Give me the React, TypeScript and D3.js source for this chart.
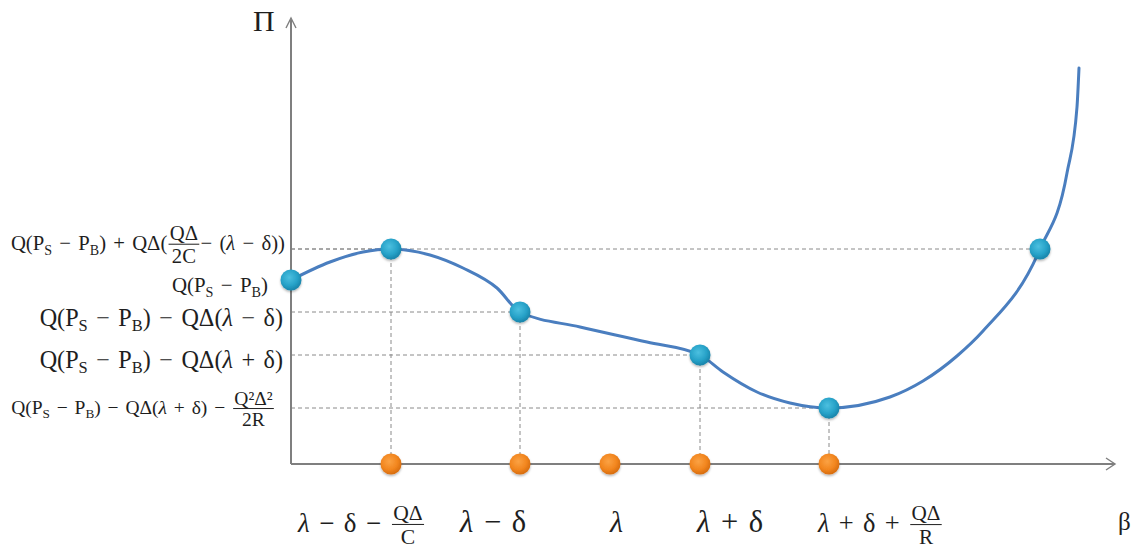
import React, { useEffect, useRef } from 'react';
import * as d3 from 'd3';

const W = 1131;
const H = 558;

// Profit curve Π(β), sampled along the drawn line
const curveBeta = [0, 39, 72, 100, 139, 172, 206, 229, 289, 356, 409, 432, 466, 499, 538, 599, 632, 666, 692, 749, 776, 786, 788];
const curvePi = [184, 202, 212, 215, 209, 196, 176, 152, 137, 122, 109, 92, 72, 61, 56, 67, 83, 108, 133, 215, 291, 357, 396];

// Highlighted points on the curve
const keyBeta = [0, 100, 229, 409, 538, 749];
const keyPi = [184, 215, 152, 109, 56, 215];

// Marked β positions on the horizontal axis
const tickBeta = [100, 229, 319, 409, 538];

type Part = string | { sub: string } | { it: string } | { frac: [string, string] };

// Π-axis labels (values + formula pieces)
const piLabelValues = [215, 184, 152, 109, 56];
const piLabelParts: Part[][] = [
  ['Q(P', { sub: 'S' }, ' − P', { sub: 'B' }, ') + QΔ(', { frac: ['QΔ', '2C'] }, '− (', { it: 'λ' }, ' − δ))'],
  ['Q(P', { sub: 'S' }, ' − P', { sub: 'B' }, ')'],
  ['Q(P', { sub: 'S' }, ' − P', { sub: 'B' }, ') − QΔ(', { it: 'λ' }, ' − δ)'],
  ['Q(P', { sub: 'S' }, ' − P', { sub: 'B' }, ') − QΔ(', { it: 'λ' }, ' + δ)'],
  ['Q(P', { sub: 'S' }, ' − P', { sub: 'B' }, ') − QΔ(', { it: 'λ' }, ' + δ) − ', { frac: ['Q²Δ²', '2R'] }],
];

// β-axis labels
const betaLabelParts: Part[][] = [
  [{ it: 'λ' }, ' − δ − ', { frac: ['QΔ', 'C'] }],
  [{ it: 'λ' }, ' − δ'],
  [{ it: 'λ' }],
  [{ it: 'λ' }, ' + δ'],
  [{ it: 'λ' }, ' + δ + ', { frac: ['QΔ', 'R'] }],
];

// Layout for the formula labels
const piLabelSize = [20.7, 20.9, 24.2, 24.2, 19.5];
const piLabelDx = [-6, -23, -8, -8, -16];
const piLabelDy = [1, 12, 14, 13, 6];
const betaLabelSize = [27, 30.5, 30, 30.5, 26.5];
const betaLabelDx = [-93, -60, 0, -3, -11];
const betaLabelFrac = [0.8, 1, 1, 1, 0.8];

const FONT = '"Liberation Serif", "Times New Roman", serif';
const INK = '#1e1e1e';
const WORD_SPACING = 0.1; // em, widens the gaps around operators

function drawMath(
  g: d3.Selection<SVGGElement, unknown, null, undefined>,
  parts: Part[],
  fs: number,
  fracScale = 1
): number {
  let cx = 0;
  const addText = (str: string, size: number, px: number, py: number, italic = false) => {
    const t = g
      .append('text')
      .attr('x', px)
      .attr('y', py)
      .attr('font-size', size)
      .attr('font-family', FONT)
      .attr('fill', INK)
      .attr('word-spacing', size * WORD_SPACING)
      .style('white-space', 'pre')
      .text(str);
    if (italic) t.attr('font-style', 'italic');
    return t;
  };
  const len = (t: d3.Selection<SVGTextElement, unknown, null, undefined>) =>
    (t.node() as SVGTextElement).getComputedTextLength();

  for (const p of parts) {
    if (typeof p === 'string') {
      cx += len(addText(p, fs, cx, 0));
    } else if ('sub' in p) {
      cx += len(addText(p.sub, fs * 0.68, cx, fs * 0.22));
    } else if ('it' in p) {
      cx += len(addText(p.it, fs, cx, 0, true));
    } else {
      const ff = fs * fracScale;
      const bar = -fs * 0.28;
      const pad = ff * 0.12;
      const num = addText(p.frac[0], ff, 0, bar - ff * 0.2);
      const den = addText(p.frac[1], ff, 0, bar + ff * 0.9);
      const w = Math.max(len(num), len(den)) + pad * 2;
      num.attr('x', cx + w / 2).attr('text-anchor', 'middle');
      den.attr('x', cx + w / 2).attr('text-anchor', 'middle');
      g.append('line')
        .attr('x1', cx + pad * 0.5)
        .attr('x2', cx + w - pad * 0.5)
        .attr('y1', bar)
        .attr('y2', bar)
        .attr('stroke', INK)
        .attr('stroke-width', 1);
      cx += w;
    }
  }
  return cx;
}

export default function App() {
  const ref = useRef<SVGSVGElement>(null);

  useEffect(() => {
    const svg = d3.select(ref.current as SVGSVGElement);
    svg.selectAll('*').remove();

    const x = d3.scaleLinear().domain([0, 824]).range([291, 1115]);
    const y = d3.scaleLinear().domain([0, 446]).range([464, 18]);

    const defs = svg.append('defs');
    const blue = defs.append('radialGradient').attr('id', 'dotBlue').attr('cx', '42%').attr('cy', '38%').attr('r', '60%');
    blue.append('stop').attr('offset', '0%').attr('stop-color', '#4cc0e0');
    blue.append('stop').attr('offset', '65%').attr('stop-color', '#27a2c8');
    blue.append('stop').attr('offset', '100%').attr('stop-color', '#1a87ad');
    const orange = defs.append('radialGradient').attr('id', 'dotOrange').attr('cx', '42%').attr('cy', '38%').attr('r', '60%');
    orange.append('stop').attr('offset', '0%').attr('stop-color', '#fba243');
    orange.append('stop').attr('offset', '65%').attr('stop-color', '#f2861f');
    orange.append('stop').attr('offset', '100%').attr('stop-color', '#d96f10');
    const shadow = defs.append('filter').attr('id', 'dotShadow').attr('x', '-50%').attr('y', '-50%').attr('width', '200%').attr('height', '200%');
    shadow.append('feDropShadow').attr('dx', 0).attr('dy', 1.5).attr('stdDeviation', 1.2).attr('flood-color', '#000').attr('flood-opacity', 0.3);

    // guide lines
    const guides = svg.append('g').attr('stroke', '#8a8a8a').attr('stroke-width', 1).attr('stroke-dasharray', '4,3').attr('fill', 'none');
    keyBeta.forEach((b, i) => {
      if (i === 0) return;
      guides.append('line').attr('x1', x(0)).attr('x2', x(b)).attr('y1', y(keyPi[i])).attr('y2', y(keyPi[i]));
      if (i < keyBeta.length - 1) {
        guides.append('line').attr('x1', x(b)).attr('x2', x(b)).attr('y1', y(keyPi[i])).attr('y2', y(0));
      }
    });

    // axes
    const axes = svg.append('g').attr('stroke', '#7f7f7f').attr('fill', 'none');
    axes.append('path').attr('stroke-width', 2).attr('d', `M${x(0)},${y(0)}V${y(446) + 2}M${x(0)},${y(0)}H${x(824)}`);
    axes.append('path').attr('stroke-width', 1.4)
      .attr('d', `M${x(0) - 5},${y(446) + 10}L${x(0)},${y(446)}L${x(0) + 5},${y(446) + 10}`);
    axes.append('path').attr('stroke-width', 1.4)
      .attr('d', `M${x(824) - 9},${y(0) - 6}L${x(824)},${y(0)}L${x(824) - 9},${y(0) + 6}`);

    // curve
    const line = d3
      .line<number>()
      .x((_, i) => x(curveBeta[i]))
      .y((d) => y(d))
      .curve(d3.curveMonotoneX);
    svg.append('path')
      .attr('d', line(curvePi) as string)
      .attr('fill', 'none')
      .attr('stroke', '#4a7ebf')
      .attr('stroke-width', 3)
      .attr('stroke-linecap', 'round');

    // points
    svg.append('g').selectAll('circle').data(tickBeta).join('circle')
      .attr('cx', (d) => x(d)).attr('cy', y(0)).attr('r', 10.5)
      .attr('fill', 'url(#dotOrange)').attr('filter', 'url(#dotShadow)');
    svg.append('g').selectAll('circle').data(keyBeta).join('circle')
      .attr('cx', (d) => x(d)).attr('cy', (_, i) => y(keyPi[i])).attr('r', 10.5)
      .attr('fill', 'url(#dotBlue)').attr('filter', 'url(#dotShadow)');

    // Π-axis formula labels (right aligned to the axis)
    piLabelParts.forEach((parts, i) => {
      const g = svg.append('g');
      const w = drawMath(g, parts, piLabelSize[i]);
      g.attr('transform', `translate(${x(0) + piLabelDx[i] - w},${y(piLabelValues[i]) + piLabelDy[i]})`);
    });

    // β-axis formula labels
    betaLabelParts.forEach((parts, i) => {
      const g = svg.append('g');
      drawMath(g, parts, betaLabelSize[i], betaLabelFrac[i]);
      g.attr('transform', `translate(${x(tickBeta[i]) + betaLabelDx[i]},${y(0) + 68})`);
    });

    // axis titles
    svg.append('text').attr('x', x(0) - 38).attr('y', y(446) + 13)
      .attr('font-family', FONT).attr('font-size', 30).attr('fill', INK).text('Π');
    svg.append('text').attr('x', x(824) + 3).attr('y', y(0) + 66)
      .attr('font-family', FONT).attr('font-size', 25).attr('fill', INK).text('β');
  }, []);

  return (
    <svg
      ref={ref}
      width={W}
      height={H}
      style={{ position: 'absolute', left: 0, top: 0, background: '#fff' }}
    />
  );
}
